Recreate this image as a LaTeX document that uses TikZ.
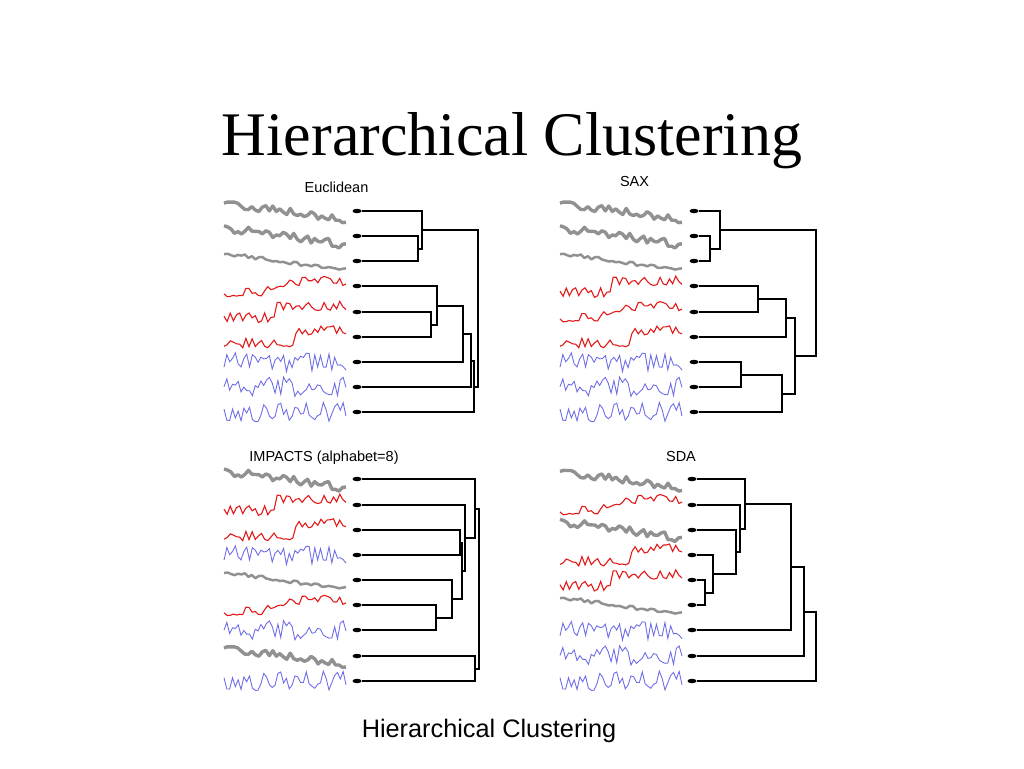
\documentclass[tikz,border=0pt]{standalone}
\usepackage{fontspec}
\setmainfont{Liberation Serif}
\setsansfont{Liberation Sans}
\usetikzlibrary{calc,positioning,shapes.geometric}
\definecolor{tsgray}{RGB}{145,145,145}
\definecolor{tsred}{RGB}{228,25,25}
\definecolor{tsblue}{RGB}{110,110,232}

% merge of two clusters at height #2
\newcommand{\joinat}[4]{%
  \path let \p1=($(#3)!.5!(#4)$) in coordinate (#1) at (#2pt,{round(\y1)});
  \draw[link] (#3) -| (#1) |- (#4);}
% series: x, y, seed, ...
\newcommand{\gtrace}[5]{\pgfmathsetseed{#3}
  \draw[graytrace,line width=#4] plot[domain=0:122,samples=36] ({#1+\x},{#2-8+17*\x/122+#5*rand});}
\newcommand{\rtrace}[5]{\pgfmathsetseed{#3}
  \draw[redtrace] plot[domain=0:122,samples=40] ({#1+\x},{#2+6-12*min(1,max(0,(\x-#4)/#5))+5*rand});}
\newcommand{\btrace}[3]{\pgfmathsetseed{#3}
  \draw[bluetrace] plot[domain=0:122,samples=44] ({#1+\x},{#2+10*rand});}
\newcommand{\tsgA}[2]{\gtrace{#1}{#2}{11}{3.4pt}{4.5}}
\newcommand{\tsgB}[2]{\gtrace{#1}{#2}{23}{3.4pt}{4.5}}
\newcommand{\tsgC}[2]{\gtrace{#1}{#2}{37}{2.5pt}{2}}
\newcommand{\tsrA}[2]{\rtrace{#1}{#2}{41}{38}{24}}
\newcommand{\tsrB}[2]{\rtrace{#1}{#2}{53}{48}{5}}
\newcommand{\tsrC}[2]{\rtrace{#1}{#2}{67}{68}{4}}
\newcommand{\tsbA}[2]{\btrace{#1}{#2}{71}}
\newcommand{\tsbB}[2]{\btrace{#1}{#2}{83}}
\newcommand{\tsbC}[2]{\btrace{#1}{#2}{97}}

\begin{document}
\begin{tikzpicture}[x=1pt,y=-1pt,
    leaf/.style={ellipse,fill=black,inner sep=0pt,minimum width=9pt,minimum height=4.5pt},
    link/.style={line width=2.4pt},
    graytrace/.style={tsgray,line join=round},
    redtrace/.style={tsred,line width=1.1pt},
    bluetrace/.style={tsblue,line width=0.9pt},
    panel/.style={font=\sffamily\fontsize{14.5}{17}\selectfont,anchor=base}]
  \useasboundingbox (0,0) rectangle (1024,768);
  \node[font=\fontsize{62}{70}\selectfont,anchor=base] (title) at (512,155) {Hierarchical Clustering};
  \node[font=\sffamily\fontsize{25.3}{30}\selectfont,anchor=base] (caption) at (489,737) {Hierarchical Clustering};

  % Euclidean
  \node[panel] (euclab) at (336.5,192.7) {Euclidean};
  \foreach \kind [count=\i] in {tsgA,tsgB,tsgC,tsrA,tsrB,tsrC,tsbA,tsbB,tsbC} {
    \csname\kind\endcsname{224}{211+25.15*(\i-1)}
    \node[leaf] (e\i) at (357,{round(211+25.15*(\i-1))}) {};
  }
  \joinat{e23}{418}{e2}{e3}
  \joinat{e123}{422}{e1}{e23}
  \joinat{e56}{431}{e5}{e6}
  \joinat{e456}{437}{e4}{e56}
  \joinat{e4567}{463}{e456}{e7}
  \joinat{e48}{471}{e4567}{e8}
  \joinat{e49}{474}{e48}{e9}
  \joinat{eroot}{478}{e123}{e49}

  % SAX
  \node[panel] (saxlab) at (634.5,186.7) {SAX};
  \foreach \kind [count=\i] in {tsgA,tsgB,tsgC,tsrB,tsrA,tsrC,tsbA,tsbB,tsbC} {
    \csname\kind\endcsname{560}{211+25.15*(\i-1)}
    \node[leaf] (s\i) at (694,{round(211+25.15*(\i-1))}) {};
  }
  \joinat{s23}{710}{s2}{s3}
  \joinat{s123}{720}{s1}{s23}
  \joinat{s45}{758}{s4}{s5}
  \joinat{s456}{786}{s45}{s6}
  \joinat{s78}{741}{s7}{s8}
  \joinat{s789}{782}{s78}{s9}
  \joinat{s4to9}{795}{s456}{s789}
  \joinat{sroot}{816}{s123}{s4to9}

  % IMPACTS
  \node[panel] (implab) at (324,461.7) {IMPACTS (alphabet=8)};
  \foreach \kind [count=\i] in {tsgB,tsrB,tsrC,tsbA,tsgC,tsrA,tsbB,tsgA,tsbC} {
    \csname\kind\endcsname{224}{479.3+25.2*(\i-1)}
    \node[leaf] (i\i) at (357,{round(479.3+25.2*(\i-1))}) {};
  }
  \joinat{i67}{436}{i6}{i7}
  \joinat{i567}{452}{i5}{i67}
  \joinat{i34}{460}{i3}{i4}
  \joinat{i3to7}{462}{i34}{i567}
  \joinat{i2to7}{465}{i2}{i3to7}
  \joinat{i1to7}{475}{i1}{i2to7}
  \joinat{i89}{475}{i8}{i9}
  \joinat{iroot}{479}{i1to7}{i89}

  % SDA
  \node[panel] (sdalab) at (681,461.7) {SDA};
  \foreach \kind [count=\i] in {tsgA,tsrA,tsgB,tsrC,tsrB,tsgC,tsbA,tsbB,tsbC} {
    \csname\kind\endcsname{560}{479.3+25.2*(\i-1)}
    \node[leaf] (d\i) at (692,{round(479.3+25.2*(\i-1))}) {};
  }
  \joinat{d56}{705}{d5}{d6}
  \joinat{d456}{713}{d4}{d56}
  \joinat{d3to6}{736}{d3}{d456}
  \joinat{d2to6}{740}{d2}{d3to6}
  \joinat{d1to6}{745}{d1}{d2to6}
  \joinat{d1to7}{791}{d1to6}{d7}
  \joinat{d1to8}{804}{d1to7}{d8}
  \joinat{droot}{816}{d1to8}{d9}
\end{tikzpicture}
\end{document}
